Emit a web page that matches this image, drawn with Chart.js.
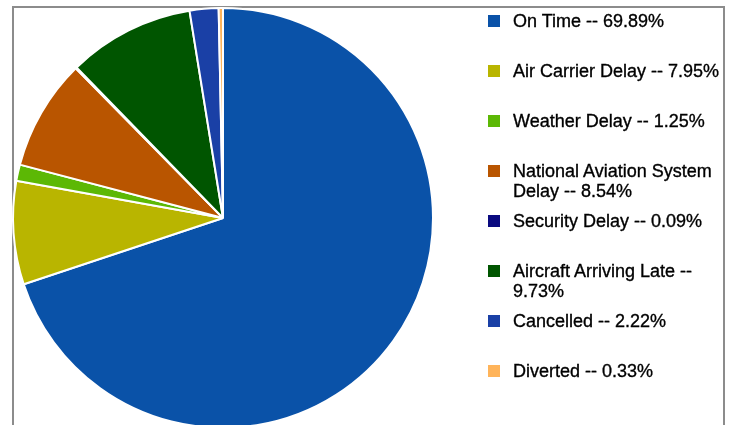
<!DOCTYPE html>
<html>
<head>
<meta charset="utf-8">
<script src="https://cdn.jsdelivr.net/npm/chart.js@4/dist/chart.umd.min.js"></script>
<style>
  html, body { margin: 0; padding: 0; background: #fff; }
  #wrap { position: relative; width: 729px; height: 425px; overflow: hidden; }
  #frame { position: absolute; left: 12px; top: 6px; width: 709px; height: 440px;
           border: 2px solid #8c8c8c; border-bottom: none; }
  #pie { position: absolute; left: 0; top: 0; }
  .item { position: absolute; left: 488px; }
  .item .box { position: absolute; left: 0; top: 4px; width: 12px; height: 12px; }
  .item .txt { position: absolute; left: 25px; top: 0; width: 212px;
               font: 18px "Liberation Sans", Arial, sans-serif; line-height: 20px; color: #000;
               -webkit-text-stroke: 0.35px #000; }
</style>
</head>
<body>
<div id="wrap">
  <div id="frame"></div>
  <canvas id="pie" width="729" height="440"></canvas>
  <div id="legend"></div>
</div>
<script>
// flight status breakdown, clockwise from 12 o'clock
var categories = ['On Time', 'Air Carrier Delay', 'Weather Delay', 'National Aviation System Delay',
                  'Security Delay', 'Aircraft Arriving Late', 'Cancelled', 'Diverted'];
var shares = [69.89, 7.95, 1.25, 8.54, 0.09, 9.73, 2.22, 0.33];
var colors = ['#0a52a8', '#b9b500', '#5cb805', '#b95500', '#0a0a80', '#005500', '#1a40a6', '#ffb45a'];

var labels = categories.map(function(c, i) { return c + ' -- ' + shares[i].toFixed(2) + '%'; });

// canvas is taller than the page so the bottom of the pie gets cut off like the original
new Chart(document.getElementById('pie').getContext('2d'), {
  type: 'pie',
  data: {
    labels: labels,
    datasets: [{
      data: shares,
      backgroundColor: colors,
      borderColor: '#ffffff',
      borderWidth: 2
    }]
  },
  options: {
    responsive: false,
    animation: false,
    layout: { padding: { left: 12, top: 7, right: 295, bottom: 11 } },
    plugins: {
      legend: { display: false },
      tooltip: { enabled: false }
    }
  }
});

// legend on the right, one slot of 50px per item
var legend = document.getElementById('legend');
labels.forEach(function(text, i) {
  var item = document.createElement('div');
  item.className = 'item';
  item.style.top = (11 + 50 * i) + 'px';
  item.innerHTML = '<div class="box" style="background:' + colors[i] + '"></div>' +
                   '<div class="txt">' + text + '</div>';
  legend.appendChild(item);
});
</script>
</body>
</html>
